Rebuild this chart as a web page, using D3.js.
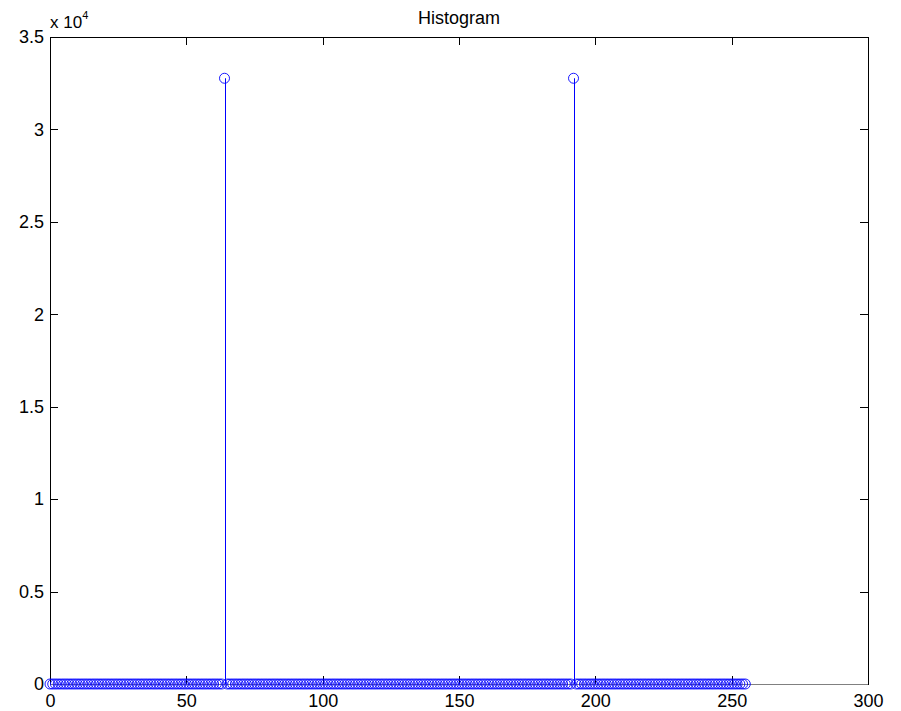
<!DOCTYPE html>
<html><head><meta charset="utf-8">
<script src="https://cdn.jsdelivr.net/npm/d3@7"></script>
<style>body{margin:0;background:#fff}svg{display:block}text{font-family:Arial,"Liberation Sans",Helvetica,sans-serif}</style>
</head><body>
<svg id="c" width="901" height="711"></svg>
<script>
const title = "Histogram";
const xTicks = [0, 50, 100, 150, 200, 250, 300];
const yTicks = [0, 0.5, 1, 1.5, 2, 2.5, 3, 3.5];
const yTickLabels = ["0", "0.5", "1", "1.5", "2", "2.5", "3", "3.5"];
// intensity levels 0..255
const levels = [
0,1,2,3,4,5,6,7,8,9,10,11,12,13,14,15,16,17,18,19,20,21,22,23,24,25,26,27,28,29,30,31,
32,33,34,35,36,37,38,39,40,41,42,43,44,45,46,47,48,49,50,51,52,53,54,55,56,57,58,59,60,61,62,63,
64,65,66,67,68,69,70,71,72,73,74,75,76,77,78,79,80,81,82,83,84,85,86,87,88,89,90,91,92,93,94,95,
96,97,98,99,100,101,102,103,104,105,106,107,108,109,110,111,112,113,114,115,116,117,118,119,120,121,122,123,124,125,126,127,
128,129,130,131,132,133,134,135,136,137,138,139,140,141,142,143,144,145,146,147,148,149,150,151,152,153,154,155,156,157,158,159,
160,161,162,163,164,165,166,167,168,169,170,171,172,173,174,175,176,177,178,179,180,181,182,183,184,185,186,187,188,189,190,191,
192,193,194,195,196,197,198,199,200,201,202,203,204,205,206,207,208,209,210,211,212,213,214,215,216,217,218,219,220,221,222,223,
224,225,226,227,228,229,230,231,232,233,234,235,236,237,238,239,240,241,242,243,244,245,246,247,248,249,250,251,252,253,254,255];
// pixel counts per level
const counts = [
0,0,0,0,0,0,0,0,0,0,0,0,0,0,0,0,0,0,0,0,0,0,0,0,0,0,0,0,0,0,0,0,
0,0,0,0,0,0,0,0,0,0,0,0,0,0,0,0,0,0,0,0,0,0,0,0,0,0,0,0,0,0,0,0,
32768,0,0,0,0,0,0,0,0,0,0,0,0,0,0,0,0,0,0,0,0,0,0,0,0,0,0,0,0,0,0,0,
0,0,0,0,0,0,0,0,0,0,0,0,0,0,0,0,0,0,0,0,0,0,0,0,0,0,0,0,0,0,0,0,
0,0,0,0,0,0,0,0,0,0,0,0,0,0,0,0,0,0,0,0,0,0,0,0,0,0,0,0,0,0,0,0,
0,0,0,0,0,0,0,0,0,0,0,0,0,0,0,0,0,0,0,0,0,0,0,0,0,0,0,0,0,0,0,0,
32768,0,0,0,0,0,0,0,0,0,0,0,0,0,0,0,0,0,0,0,0,0,0,0,0,0,0,0,0,0,0,0,
0,0,0,0,0,0,0,0,0,0,0,0,0,0,0,0,0,0,0,0,0,0,0,0,0,0,0,0,0,0,0,0];

const L = 50, R = 868, T = 37, B = 684;
const svg = d3.select("#c");
const x = d3.scaleLinear().domain([0, 300]).range([L, R]);
const y = d3.scaleLinear().domain([0, 3.5]).range([B, T]);
const yc = v => y(v / 1e4);
const data = levels.map((l, i) => ({l, c: counts[i]}));

// box
svg.append("rect").attr("x", L).attr("y", T).attr("width", R - L).attr("height", B - T)
  .attr("fill", "none").attr("stroke", "#000").attr("stroke-width", 1).attr("shape-rendering", "crispEdges");

const tk = 8;
const FS = 18;
// axes (inward ticks)
const axB = d3.axisBottom(x).tickValues(xTicks).tickSize(-tk).tickPadding(10).tickSizeOuter(0);
const axT = d3.axisTop(x).tickValues(xTicks).tickSize(-tk).tickFormat("").tickSizeOuter(0);
const axLf = d3.axisLeft(y).tickValues(yTicks).tickSize(-tk).tickPadding(6).tickSizeOuter(0)
  .tickFormat((d, i) => yTickLabels[i]);
const axRt = d3.axisRight(y).tickValues(yTicks).tickSize(-tk).tickFormat("").tickSizeOuter(0);

function style(g) {
  g.select(".domain").remove();
  g.selectAll("line").attr("stroke", "#000").attr("shape-rendering", "crispEdges");
  g.selectAll("text").attr("fill", "#000").attr("font-size", FS);
}
svg.append("g").attr("transform", `translate(0,${B})`).call(axB).call(style);
svg.append("g").attr("transform", `translate(0,${T})`).call(axT).call(style);
svg.append("g").attr("transform", `translate(${L},0)`).call(axLf).call(style);
svg.append("g").attr("transform", `translate(${R},0)`).call(axRt).call(style);

// baseline
svg.append("line").attr("x1", L).attr("x2", R).attr("y1", yc(0)).attr("y2", yc(0))
  .attr("stroke", "#808080").attr("shape-rendering", "crispEdges");

// stems
const px = v => Math.round(x(v)) + 0.5;
svg.append("g").attr("class", "stems").selectAll("line").data(data).join("line")
  .attr("x1", d => px(d.l)).attr("x2", d => px(d.l))
  .attr("y1", yc(0)).attr("y2", d => yc(d.c))
  .attr("stroke", "#0000ff").attr("stroke-width", 1);
// markers
svg.append("g").attr("class", "marks").selectAll("circle").data(data).join("circle")
  .attr("cx", d => x(d.l)).attr("cy", d => yc(d.c)).attr("r", 5)
  .attr("fill", "none").attr("stroke", "#0000ff").attr("stroke-width", 0.9);

// title
svg.append("text").attr("x", (L + R) / 2).attr("y", 24).attr("text-anchor", "middle")
  .attr("font-size", FS).attr("fill", "#000").text(title);

// exponent label
const ex = svg.append("text").attr("x", L).attr("y", 28).attr("font-size", 17).attr("fill", "#000");
ex.append("tspan").text("x 10");
ex.append("tspan").attr("dy", -9).attr("font-size", 11).text("4");
</script>
</body></html>
